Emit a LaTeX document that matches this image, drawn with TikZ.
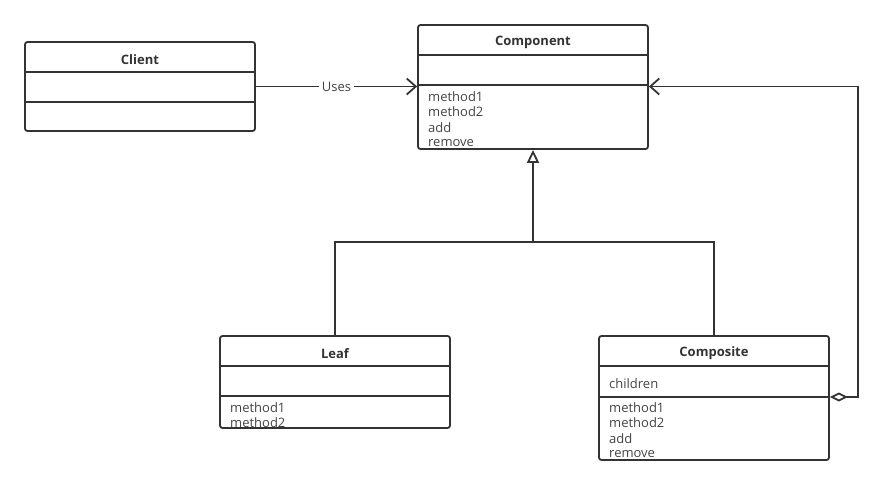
\documentclass[tikz,border=0pt]{standalone}
\usepackage{fontspec}
\setmainfont{Open Sans}
\usepackage{tikz}
\usetikzlibrary{arrows.meta, positioning}

\definecolor{umlline}{HTML}{333333}
\definecolor{umltext}{HTML}{444444}

\tikzset{
    classbox/.style={draw=umlline, line width=1.8pt, rounded corners=2.5pt, inner sep=0pt},
    divider/.style={draw=umlline, line width=1.8pt},
    classname/.style={font=\fontsize{13}{15}\selectfont\bfseries, text=umlline, yshift=-1.5pt},
    member/.style={font=\fontsize{13}{15}\selectfont, text=umltext, anchor=west, inner sep=0pt, yshift=-1.2pt},
    link/.style={draw=umlline, line width=1.8pt},
}

\begin{document}
\begin{tikzpicture}[x=1pt, y=-1pt]
    \useasboundingbox (0,0) rectangle (884,485);

    % Client
    \node[classbox, minimum width=230pt, minimum height=89pt] (client) at (140,86.5) {};
    \draw[divider] (25,72) -- (255,72);
    \draw[divider] (25,102) -- (255,102);
    \node[classname] (client-name) at (140,58) {Client};

    % Component
    \node[classbox, minimum width=230pt, minimum height=124pt] (component) at (533,87) {};
    \draw[divider] (418,55) -- (648,55);
    \draw[divider] (418,85) -- (648,85);
    \node[classname] (component-name) at (533,41) {Component};
    \node[member] (component-m1) at (428,95) {method1};
    \node[member] (component-m2) at (428,110.5) {method2};
    \node[member] (component-m3) at (428,126) {add};
    \node[member] (component-m4) at (428,141.5) {remove};

    % Leaf
    \node[classbox, minimum width=230pt, minimum height=92pt] (leaf) at (335,382) {};
    \draw[divider] (220,366) -- (450,366);
    \draw[divider] (220,396) -- (450,396);
    \node[classname] (leaf-name) at (335,352) {Leaf};
    \node[member] (leaf-m1) at (230,406) {method1};
    \node[member] (leaf-m2) at (230,421.5) {method2};

    % Composite
    \node[classbox, minimum width=230pt, minimum height=124pt] (composite) at (714,398) {};
    \draw[divider] (599,366) -- (829,366);
    \draw[divider] (599,397) -- (829,397);
    \node[classname] (composite-name) at (714,352) {Composite};
    \node[member] (composite-a1) at (609,382) {children};
    \node[member] (composite-m1) at (609,406) {method1};
    \node[member] (composite-m2) at (609,421.5) {method2};
    \node[member] (composite-m3) at (609,437) {add};
    \node[member] (composite-m4) at (609,452.5) {remove};

    % Uses
    \draw[link, -{Straight Barb[length=9pt, width=16pt, line width=1.8pt]}]
        (client.east) -- node[fill=white, inner xsep=3pt, font=\fontsize{13}{15}\selectfont, text=umltext] (uses) {Uses} (component.west |- client.east);

    % Generalization
    \coordinate (join) at (533,242);
    \draw[link] (leaf.north) |- (join) -| (composite.north);
    \draw[link, -{Triangle[open, length=13pt, width=12pt, line width=1.8pt]}] (join) -- (component.south);

    % Aggregation
    \coordinate (loop) at (858,397);
    \draw[link, {Diamond[open, length=18pt, width=9pt, line width=1.8pt]}-{Straight Barb[length=9pt, width=16pt, line width=1.8pt]}]
        (composite.east |- loop) -- (loop) |- (component.east |- client.east);
\end{tikzpicture}
\end{document}
